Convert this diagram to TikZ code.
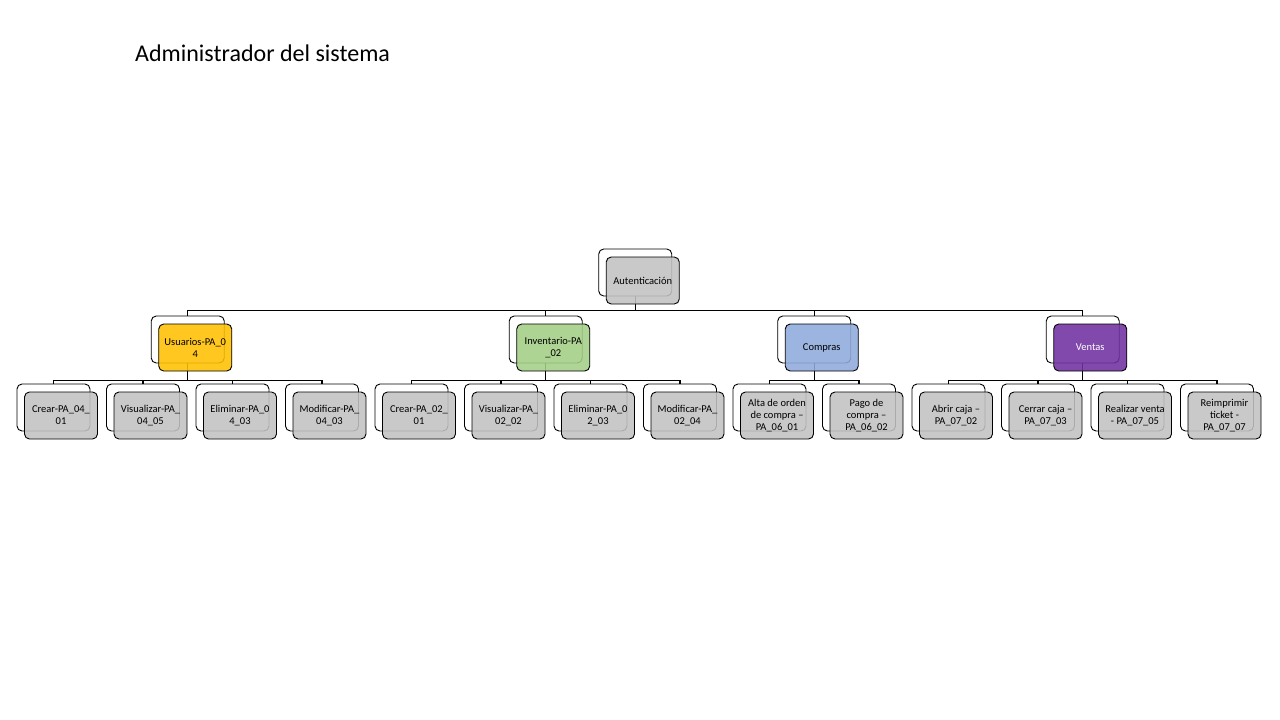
\documentclass[tikz,border=0pt]{standalone}
\usepackage{fontspec}
\setmainfont{Carlito}
\definecolor{boxgray}{HTML}{C2C2C2}
\definecolor{boxyellow}{HTML}{FFC000}
\definecolor{boxgreen}{HTML}{A3CF86}
\definecolor{boxblue}{HTML}{8FAADC}
\definecolor{boxpurple}{HTML}{7030A0}
\tikzset{
  backbox/.style={draw=black, line width=0.9pt, fill=white, rounded corners=5pt,
    minimum width=73pt, minimum height=47pt, inner sep=0pt},
  frontbox/.style={draw=black, line width=0.9pt, rounded corners=5pt, fill opacity=0.88, text opacity=1,
    minimum width=73pt, minimum height=47pt, inner sep=1pt, align=center,
    font=\fontsize{10.5}{12}\selectfont},
  conn/.style={draw=black, line width=1.2pt},
}
% #1 name, #2 back centre x, #3 back top y
\newcommand\orgpair[3]{%
  \node[backbox] (#1b) at (#2,#3+23.5) {};
  \coordinate (#1f) at (#2+7.5,#3+31.5);
}
\newcommand\orgfront[4]{%
  \node[frontbox, fill=#2, text=#3] (#1) at (#1f) {#4};
}
\begin{document}
\begin{tikzpicture}[x=1pt,y=-1pt]
\useasboundingbox (0,0) rectangle (1280,720);
\node[anchor=base west, inner sep=0pt, font=\fontsize{24}{28}\selectfont] (title) at (135,61) {Administrador del sistema};

% back boxes
\orgpair{auth}{635.25}{249}
\orgpair{usr}{187.75}{316}
\orgpair{inv}{545.75}{316}
\orgpair{com}{814.25}{316}
\orgpair{ven}{1082.75}{316}
\orgpair{ua}{53.5}{384}
\orgpair{ub}{143}{384}
\orgpair{uc}{232.5}{384}
\orgpair{ud}{322}{384}
\orgpair{ia}{411.5}{384}
\orgpair{ib}{501}{384}
\orgpair{ic}{590.5}{384}
\orgpair{id}{680}{384}
\orgpair{ca}{769.5}{384}
\orgpair{cb}{859}{384}
\orgpair{va}{948.5}{384}
\orgpair{vb}{1038}{384}
\orgpair{vc}{1127.5}{384}
\orgpair{vd}{1217}{384}

% connectors
\foreach \c in {usr,inv,com,ven}{\draw[conn] (authb.south) -- ++(0,14) -| (\c b.north);}
\foreach \c in {ua,ub,uc,ud}{\draw[conn] (usrb.south) -- ++(0,17) -| (\c b.north);}
\foreach \c in {ia,ib,ic,id}{\draw[conn] (invb.south) -- ++(0,17) -| (\c b.north);}
\foreach \c in {ca,cb}{\draw[conn] (comb.south) -- ++(0,17) -| (\c b.north);}
\foreach \c in {va,vb,vc,vd}{\draw[conn] (venb.south) -- ++(0,17) -| (\c b.north);}

% front boxes
\orgfront{auth}{boxgray}{black}{Autenticación}
\orgfront{usr}{boxyellow}{black}{Usuarios-PA\_0\\4}
\orgfront{inv}{boxgreen}{black}{Inventario-PA\\\_02}
\orgfront{com}{boxblue}{black}{Compras}
\orgfront{ven}{boxpurple}{white}{Ventas}
\orgfront{ua}{boxgray}{black}{Crear-PA\_04\_\\01}
\orgfront{ub}{boxgray}{black}{Visualizar-PA\_\\04\_05}
\orgfront{uc}{boxgray}{black}{Eliminar-PA\_0\\4\_03}
\orgfront{ud}{boxgray}{black}{Modificar-PA\_\\04\_03}
\orgfront{ia}{boxgray}{black}{Crear-PA\_02\_\\01}
\orgfront{ib}{boxgray}{black}{Visualizar-PA\_\\02\_02}
\orgfront{ic}{boxgray}{black}{Eliminar-PA\_0\\2\_03}
\orgfront{id}{boxgray}{black}{Modificar-PA\_\\02\_04}
\orgfront{ca}{boxgray}{black}{Alta de orden\\de compra –\\PA\_06\_01}
\orgfront{cb}{boxgray}{black}{Pago de\\compra –\\PA\_06\_02}
\orgfront{va}{boxgray}{black}{Abrir caja –\\PA\_07\_02}
\orgfront{vb}{boxgray}{black}{Cerrar caja –\\PA\_07\_03}
\orgfront{vc}{boxgray}{black}{Realizar venta\\- PA\_07\_05}
\orgfront{vd}{boxgray}{black}{Reimprimir\\ticket -\\PA\_07\_07}
\end{tikzpicture}
\end{document}
